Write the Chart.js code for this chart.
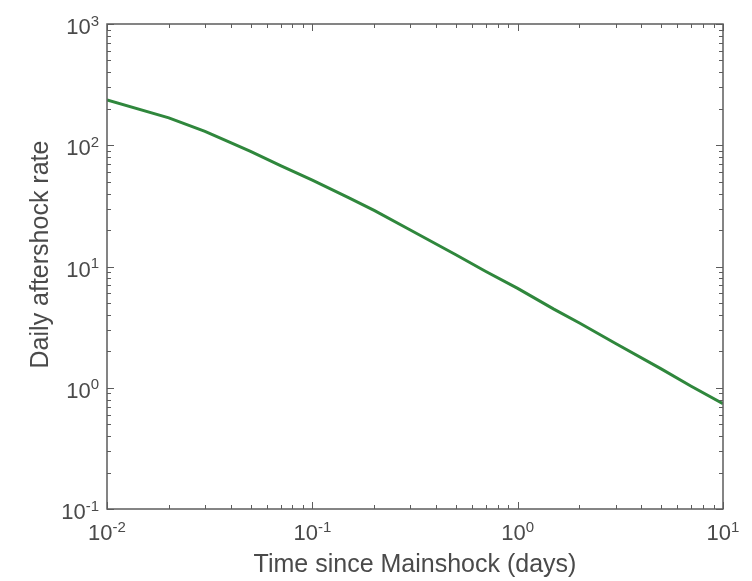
<!DOCTYPE html>
<html>
<head>
<meta charset="utf-8">
<script src="https://cdn.jsdelivr.net/npm/chart.js@4/dist/chart.umd.min.js"></script>
<style>
  body { margin: 0; background: #fff; }
  canvas { display: block; }
</style>
</head>
<body>
<canvas id="omoriChart" width="752" height="581"></canvas>
<script>
// time since mainshock (days) and daily rate
const times = [0.01, 0.02, 0.03, 0.04, 0.05, 0.07, 0.1, 0.15, 0.2, 0.3, 0.5, 0.7, 1, 1.5, 2, 3, 5, 7, 10];
const rates = [236, 168, 130, 105, 89, 68, 51.5, 37, 29, 20, 12.5, 9.1, 6.6, 4.45, 3.42, 2.32, 1.43, 1.03, 0.74];

// decade exponents for tick labels
const xExponents = [-2, -1, 0, 1];
const yExponents = [-1, 0, 1, 2, 3];

const xTitle = 'Time since Mainshock (days)';
const yTitle = 'Daily aftershock rate';

const FONT = '"Liberation Sans", Arial, sans-serif';
const TEXT_COLOR = '#4a4a4a';
const AXIS_COLOR = '#5c5c5c';

function drawPow(ctx, exp, x, y, align) {
    // "10" with superscript exponent; x is right edge or centre, y is baseline
    ctx.font = '22px ' + FONT;
    const base = '10';
    const wBase = ctx.measureText(base).width;
    ctx.font = '15px ' + FONT;
    const sup = String(exp);
    const wSup = ctx.measureText(sup).width;
    const total = wBase + wSup;
    let left = align === 'right' ? x - total : x - total / 2;
    ctx.textAlign = 'left';
    ctx.textBaseline = 'alphabetic';
    ctx.font = '22px ' + FONT;
    ctx.fillText(base, left, y);
    ctx.font = '15px ' + FONT;
    ctx.fillText(sup, left + wBase, y - 8.5);
}

const axesPlugin = {
    id: 'matlabAxes',
    afterDraw(chart) {
        const ctx = chart.ctx;
        const area = chart.chartArea;
        const xs = chart.scales.x;
        const ys = chart.scales.y;
        ctx.save();

        // ticks (inward, on all four sides)
        ctx.strokeStyle = AXIS_COLOR;
        ctx.lineWidth = 1;
        ctx.beginPath();
        for (let e = -2; e <= 1; e++) {
            for (let m = 1; m <= 9; m++) {
                const v = m * Math.pow(10, e);
                if (v < 0.01 || v > 10) continue;
                const px = Math.round(xs.getPixelForValue(v)) + 0.5;
                const len = m === 1 ? 7 : 4;
                ctx.moveTo(px, area.bottom); ctx.lineTo(px, area.bottom - len);
                ctx.moveTo(px, area.top); ctx.lineTo(px, area.top + len);
            }
        }
        for (let e = -1; e <= 3; e++) {
            for (let m = 1; m <= 9; m++) {
                const v = m * Math.pow(10, e);
                if (v < 0.1 || v > 1000) continue;
                const py = Math.round(ys.getPixelForValue(v)) + 0.5;
                const len = m === 1 ? 7 : 4;
                ctx.moveTo(area.left, py); ctx.lineTo(area.left + len, py);
                ctx.moveTo(area.right, py); ctx.lineTo(area.right - len, py);
            }
        }
        ctx.stroke();

        // box
        ctx.lineWidth = 1.5;
        ctx.strokeRect(area.left, area.top, area.right - area.left, area.bottom - area.top);

        // tick labels
        ctx.fillStyle = TEXT_COLOR;
        xExponents.forEach(e => {
            drawPow(ctx, e, xs.getPixelForValue(Math.pow(10, e)), area.bottom + 31, 'center');
        });
        yExponents.forEach(e => {
            drawPow(ctx, e, area.left - 8, ys.getPixelForValue(Math.pow(10, e)) + 10, 'right');
        });

        // axis titles
        ctx.font = '25px ' + FONT;
        ctx.textAlign = 'center';
        ctx.textBaseline = 'alphabetic';
        ctx.fillText(xTitle, (area.left + area.right) / 2, 572);
        ctx.translate(48, (area.top + area.bottom) / 2 - 12);
        ctx.rotate(-Math.PI / 2);
        ctx.fillText(yTitle, 0, 0);
        ctx.restore();
    }
};

const ctx = document.getElementById('omoriChart').getContext('2d');

const chart = new Chart(ctx, {
    type: 'line',
    data: {
        datasets: [{
            data: times.map((t, i) => ({ x: t, y: rates[i] })),
            borderColor: '#2f873c',
            borderWidth: 3,
            pointRadius: 0,
            tension: 0,
            fill: false
        }]
    },
    options: {
        responsive: false,
        animation: false,
        layout: { padding: { top: 24, right: 29, left: 0, bottom: 0 } },
        plugins: {
            legend: { display: false },
            tooltip: { enabled: false }
        },
        scales: {
            x: {
                type: 'logarithmic',
                min: 0.01,
                max: 10,
                grid: { display: false },
                border: { display: false },
                ticks: { display: false },
                afterFit: scale => { scale.height = 72; }
            },
            y: {
                type: 'logarithmic',
                min: 0.1,
                max: 1000,
                grid: { display: false },
                border: { display: false },
                ticks: { display: false },
                afterFit: scale => { scale.width = 107; }
            }
        }
    },
    plugins: [axesPlugin]
});
</script>
</body>
</html>
